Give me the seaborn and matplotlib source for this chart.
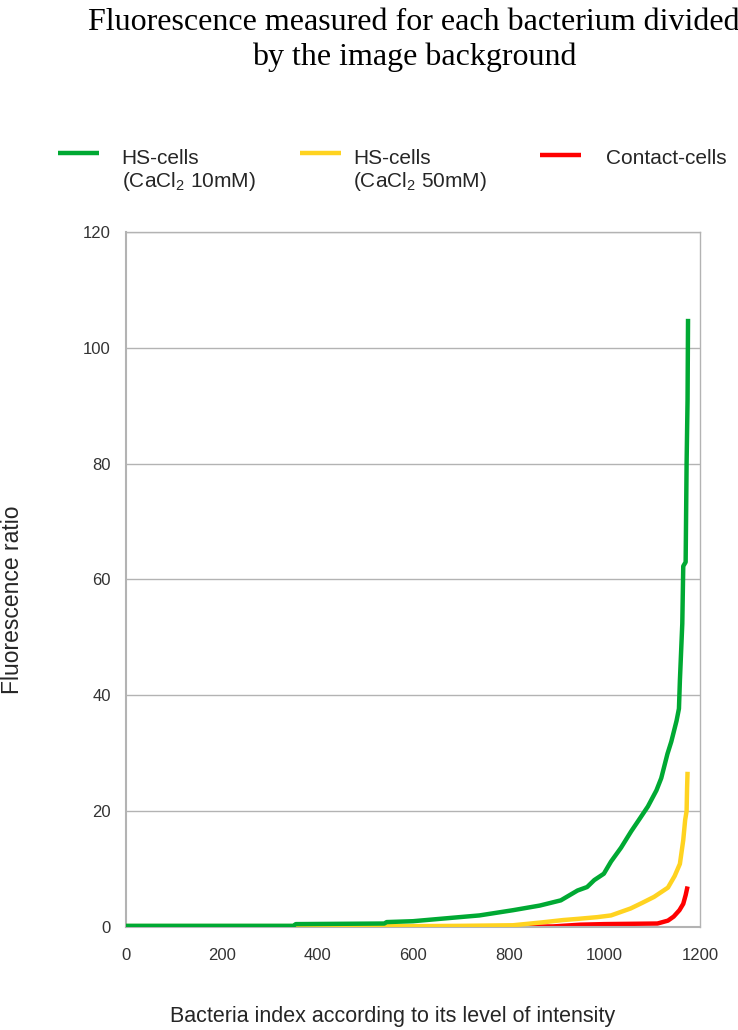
import matplotlib
matplotlib.use("Agg")
import matplotlib.pyplot as plt
from matplotlib.legend_handler import HandlerLine2D
import seaborn as sns
import pandas as pd

# Sorted fluorescence ratios (bacterium / image background), read as
# (index, ratio) break points of each ranked curve.
green_idx = [0, 350, 355, 540, 545, 600, 683, 739, 809, 865, 909, 944, 964,
             979, 999, 1014, 1035, 1056, 1074, 1091, 1109, 1119, 1132, 1140,
             1151, 1156, 1158, 1163, 1165, 1170, 1172, 1174, 1175]
green_val = [0.2, 0.2, 0.5, 0.6, 0.85, 1.0, 1.6, 2.0, 2.9, 3.7, 4.6, 6.3, 6.9,
             8.1, 9.2, 11.3, 13.7, 16.5, 18.7, 20.8, 23.6, 25.7, 29.9, 32.0,
             35.6, 37.7, 42.6, 52.4, 62.3, 63.0, 80.0, 91.0, 105.0]

yellow_idx = [0, 600, 700, 809, 870, 914, 944, 985, 1014, 1055, 1080, 1104,
              1133, 1147, 1158, 1165, 1169, 1172, 1173, 1174]
yellow_val = [0.15, 0.15, 0.2, 0.3, 0.8, 1.2, 1.4, 1.7, 2.0, 3.2, 4.2, 5.2,
              6.8, 8.8, 10.9, 15.0, 18.5, 20.0, 24.0, 26.8]

red_idx = [813, 893, 950, 1000, 1111, 1133, 1145, 1157, 1165, 1170, 1174]
red_val = [0.05, 0.1, 0.4, 0.5, 0.6, 1.1, 1.8, 2.9, 4.0, 5.5, 7.0]

labels = ["HS-cells\n(CaCl$_2$ 10mM)", "HS-cells\n(CaCl$_2$ 50mM)", "Contact-cells"]
colors = ["#00a933", "#ffd320", "#ff0000"]

x_ticks = [0, 200, 400, 600, 800, 1000, 1200]
y_ticks = [0, 20, 40, 60, 80, 100, 120]

df = pd.concat([
    pd.DataFrame({"index": green_idx, "ratio": green_val, "series": labels[0]}),
    pd.DataFrame({"index": yellow_idx, "ratio": yellow_val, "series": labels[1]}),
    pd.DataFrame({"index": red_idx, "ratio": red_val, "series": labels[2]}),
])

sns.set_theme(style="white")
plt.rcParams["font.family"] = ["Liberation Sans", "DejaVu Sans"]
plt.rcParams["mathtext.default"] = "regular"

fig = plt.figure(figsize=(7.38, 10.30), dpi=100)
ax = fig.add_axes([0.1707, 0.100, 0.7778, 0.6748])

grid_c = "#b3b3b3"
# draw the lowest curves first so the green one sits on top
for lab, col, z in zip(labels[::-1], colors[::-1], [2, 3, 4]):
    sub = df[df["series"] == lab]
    sns.lineplot(data=sub, x="index", y="ratio", ax=ax, color=col,
                 linewidth=3.2, estimator=None, sort=True, zorder=z,
                 label=lab, solid_capstyle="butt")

ax.set_xlim(0, 1200)
ax.set_ylim(0, 120)
ax.set_xticks(x_ticks)
ax.set_yticks(y_ticks)
ax.tick_params(axis="both", labelsize=12, colors="#333333",
               length=7, width=1, direction="out")
ax.tick_params(axis="both", color=grid_c)
ax.tick_params(axis="x", pad=8)
ax.tick_params(axis="y", pad=4)
ax.yaxis.grid(True, color=grid_c, linewidth=1)
ax.set_axisbelow(True)
for s in ax.spines.values():
    s.set_color(grid_c)
    s.set_linewidth(1)
ax.spines["left"].set_linewidth(1.5)
ax.spines["bottom"].set_linewidth(1.5)

ax.set_xlabel("Bacteria index according to its level of intensity",
              fontsize=15.5)
ax.set_ylabel("Fluorescence ratio", fontsize=16.5)
ax.xaxis.set_label_coords(0.465, -0.114)
ax.yaxis.set_label_coords(-0.178, 0.4705)


class TopLine(HandlerLine2D):
    """Legend line raised towards the first text line of an entry."""

    def __init__(self, shift=0.0, **kw):
        super().__init__(**kw)
        self.shift = shift

    def create_artists(self, legend, orig_handle, xdescent, ydescent,
                       width, height, fontsize, trans):
        arts = super().create_artists(legend, orig_handle, xdescent, ydescent,
                                      width, height, fontsize, trans)
        for a in arts:
            a.set_ydata([v + self.shift for v in a.get_ydata()])
        return arts


h, l = ax.get_legend_handles_labels()
ax.get_legend().remove()
lookup = dict(zip(l, h))

# one legend block per series, laid out in a row above the plot
legend_x = [0.0786, 0.4065, 0.7317]
legend_pad = [1.1, 0.6, 1.2]
legend_shift = [13.5, 13.5, 1.5]
for lab, lx, pad, sh in zip(labels, legend_x, legend_pad, legend_shift):
    hd = lookup[lab]
    leg = fig.legend([hd], [lab], loc="upper left", bbox_to_anchor=(lx, 0.855),
                     frameon=False, fontsize=15, handlelength=1.95,
                     handletextpad=pad, borderpad=0, borderaxespad=0,
                     handler_map={hd: TopLine(shift=sh)})
    for t in leg.get_texts():
        t.set_linespacing(1.1)

fig.suptitle("Fluorescence measured for each bacterium divided\nby the image background",
             x=0.561, y=0.992, fontsize=23, family=["Liberation Serif"],
             linespacing=1.25, color="#000000")

fig.savefig("out.png", dpi=100, facecolor="white")
